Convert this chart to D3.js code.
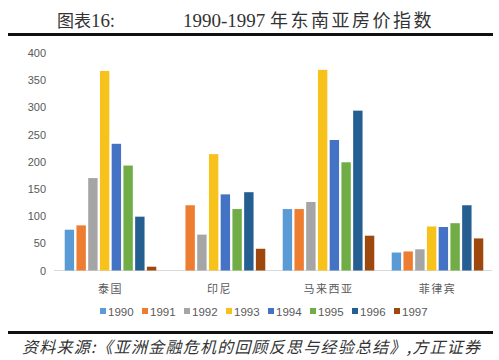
<!DOCTYPE html>
<html>
<head>
<meta charset="utf-8">
<script src="https://cdn.jsdelivr.net/npm/d3@7/dist/d3.min.js"></script>
<style>
  body { margin: 0; background: #fff; }
  .axis text { font-family: "Liberation Sans", Arial, sans-serif; font-size: 11px; fill: #595959; }
  .axis path, .axis line { display: none; }
</style>
</head>
<body>
<div id="chart"></div>
<script>
var countries = ["泰国", "印尼", "马来西亚", "菲律宾"];
var years = ["1990", "1991", "1992", "1993", "1994", "1995", "1996", "1997"];
var colors = ["#5B9BD5", "#ED7D31", "#A5A5A5", "#F7C21B", "#4472C4", "#70AD47", "#255E91", "#9E480E"];

// index values per year, one per country
var v1990 = [75, 0, 113, 33];
var v1991 = [83, 120, 113, 35];
var v1992 = [170, 66, 126, 39];
var v1993 = [367, 214, 369, 81];
var v1994 = [233, 140, 240, 80];
var v1995 = [193, 113, 199, 87];
var v1996 = [99, 144, 294, 120];
var v1997 = [7, 40, 64, 59];
var series = [v1990, v1991, v1992, v1993, v1994, v1995, v1996, v1997];

var yTicks = [0, 50, 100, 150, 200, 250, 300, 350, 400];

var W = 499, H = 360;
var svg = d3.select("#chart").append("svg").attr("width", W).attr("height", H);

// title
var title = svg.append("text").attr("y", 27).attr("fill", "#333");
title.append("tspan").attr("x", 57).style("font-family", "Noto Sans CJK SC").style("font-size", "17px").text("图表");
title.append("tspan").style("font-family", "Liberation Serif").style("font-size", "19px").text("16");
title.append("tspan").style("font-family", "Noto Sans CJK SC").style("font-size", "17px").text(":");
var t2 = svg.append("text").attr("y", 27).attr("fill", "#333");
t2.append("tspan").attr("x", 183).style("font-family", "Liberation Serif").style("font-size", "19px").text("1990-1997 ");
t2.append("tspan").style("font-family", "Noto Sans CJK SC").style("font-size", "18px")
  .style("letter-spacing", "2.5px").text("年东南亚房价指数");

svg.append("rect").attr("x", 8).attr("y", 33).attr("width", 485).attr("height", 3).attr("fill", "#111");

var x0 = d3.scaleBand().domain(countries).range([56, 492]).paddingInner(0.16).paddingOuter(0.08);
var x1 = d3.scaleBand().domain(years).range([0, x0.bandwidth()]).paddingInner(0.2);
var y = d3.scaleLinear().domain([0, 400]).range([270.5, 53]);

svg.append("g").attr("class", "axis")
  .attr("transform", "translate(50,0)")
  .call(d3.axisLeft(y).tickValues(yTicks).tickSize(0).tickPadding(4));

svg.append("line").attr("x1", 54).attr("x2", 492).attr("y1", y(0)).attr("y2", y(0))
  .attr("stroke", "#d9d9d9").attr("stroke-width", 1);

var groups = svg.append("g").selectAll("g").data(years).enter().append("g")
  .attr("fill", function(d, i) { return colors[i]; });

groups.selectAll("rect")
  .data(function(d, i) { return series[i].map(function(v, j) { return {c: countries[j], y: d, v: v}; }); })
  .enter().append("rect")
  .attr("x", function(d) { return x0(d.c) + x1(d.y); })
  .attr("width", x1.bandwidth())
  .attr("y", function(d) { return y(d.v); })
  .attr("height", function(d) { return y(0) - y(d.v); });

// category labels
svg.append("g").selectAll("text").data(countries).enter().append("text")
  .attr("x", function(d) { return x0(d) + x0.bandwidth() / 2; })
  .attr("y", 293)
  .attr("text-anchor", "middle")
  .attr("fill", "#595959")
  .style("font-family", "Noto Sans CJK SC")
  .style("font-size", "11px")
  .style("letter-spacing", "1.5px")
  .text(function(d) { return d; });

// legend
var leg = svg.append("g").attr("transform", "translate(100,312)");
var item = leg.selectAll("g").data(years).enter().append("g")
  .attr("transform", function(d, i) { return "translate(" + (i * 42) + ",0)"; });
item.append("rect").attr("y", -4).attr("width", 6).attr("height", 6)
  .attr("fill", function(d, i) { return colors[i]; });
item.append("text").attr("x", 8).attr("y", 0).attr("dy", "0.35em")
  .attr("fill", "#595959")
  .style("font-family", "Liberation Sans, Arial, sans-serif")
  .style("font-size", "11.5px")
  .text(function(d) { return d; });

svg.append("rect").attr("x", 8).attr("y", 331).attr("width", 485).attr("height", 3).attr("fill", "#111");

svg.append("text").attr("x", 22).attr("y", 353)
  .attr("fill", "#333")
  .attr("textLength", 458)
  .style("font-family", "Noto Sans CJK SC")
  .style("font-style", "italic")
  .style("font-size", "16px")
  .text("资料来源:《亚洲金融危机的回顾反思与经验总结》,方正证券");
</script>
</body>
</html>
